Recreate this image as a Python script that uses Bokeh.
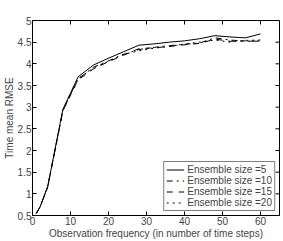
from bokeh.plotting import figure
from bokeh.models import Range1d, FixedTicker, Legend, LegendItem
from bokeh.embed import file_html
from bokeh.resources import INLINE

x = [1, 2, 4, 8, 12, 16, 20, 24, 28, 32, 36, 40, 44, 48, 52, 56, 60]
ens5 = [0.55, 0.70, 1.17, 2.95, 3.70, 3.97, 4.13, 4.28, 4.43, 4.46, 4.50, 4.53, 4.58, 4.65, 4.62, 4.60, 4.69]
ens10 = [0.55, 0.70, 1.16, 2.93, 3.65, 3.92, 4.07, 4.22, 4.33, 4.38, 4.42, 4.45, 4.48, 4.60, 4.55, 4.52, 4.53]
ens15 = [0.55, 0.70, 1.16, 2.92, 3.63, 3.88, 4.05, 4.20, 4.35, 4.37, 4.40, 4.44, 4.47, 4.57, 4.52, 4.53, 4.52]
ens20 = [0.55, 0.70, 1.16, 2.93, 3.66, 3.90, 4.06, 4.22, 4.30, 4.36, 4.40, 4.46, 4.50, 4.55, 4.50, 4.54, 4.55]
labels = ["Ensemble size =5", "Ensemble size =10", "Ensemble size =15", "Ensemble size =20"]
x_ticks = [0, 10, 20, 30, 40, 50, 60]
y_ticks = [0.5, 1, 1.5, 2, 2.5, 3, 3.5, 4, 4.5, 5]
x_min, x_max = 0, 65
y_min, y_max = 0.5, 5

FONT = "Liberation Sans"

p = figure(width=283, height=241, output_backend="svg", toolbar_location=None,
           x_range=Range1d(x_min, x_max), y_range=Range1d(y_min, y_max),
           min_border_left=0, min_border_right=4, min_border_top=20, min_border_bottom=0)
p.background_fill_color = "white"
p.border_fill_color = "white"
p.outline_line_color = "black"
p.grid.visible = False

for ax in (p.xaxis[0], p.yaxis[0]):
    ax.major_tick_in = 4
    ax.major_tick_out = 0
    ax.minor_tick_in = 0
    ax.minor_tick_out = 0
    ax.major_label_text_font = FONT
    ax.major_label_text_font_size = "10px"
    ax.axis_label_text_font = FONT
    ax.axis_label_text_font_size = "10px"
    ax.axis_label_text_font_style = "normal"
    ax.major_label_standoff = 1
    ax.axis_label_standoff = 0
    ax.axis_line_color = "black"
    ax.major_tick_line_color = "black"

p.xaxis[0].ticker = FixedTicker(ticks=x_ticks)
p.yaxis[0].ticker = FixedTicker(ticks=y_ticks)
p.xaxis[0].axis_label = "Observation frequency (in number of time steps)"
p.yaxis[0].axis_label = "Time mean RMSE"

# inward ticks on top and right edges (MATLAB box style), clipped by the frame
p.scatter(x_ticks, [y_max] * len(x_ticks), marker="dash", size=8, angle=1.5708,
          line_color="black", line_width=1)
p.scatter([x_max] * len(y_ticks), y_ticks, marker="dash", size=8,
          line_color="black", line_width=1)

r1 = p.line(x, ens5, line_color="black", line_width=1)
r2 = p.line(x, ens10, line_color="black", line_width=1, line_dash="dashdot")
r3 = p.line(x, ens15, line_color="black", line_width=1, line_dash="dashed")
r4 = p.line(x, ens20, line_color="black", line_width=1, line_dash="dotted")

legend = Legend(items=[LegendItem(label=labels[0], renderers=[r1]),
                       LegendItem(label=labels[1], renderers=[r2]),
                       LegendItem(label=labels[2], renderers=[r3]),
                       LegendItem(label=labels[3], renderers=[r4])],
                location="bottom_right")
legend.label_text_font = FONT
legend.label_text_font_size = "10px"
legend.label_height = 9
legend.glyph_height = 9
legend.glyph_width = 18
legend.label_standoff = 3
legend.spacing = 0
legend.padding = 2
legend.margin = 4
legend.border_line_color = "black"
legend.border_line_width = 1
legend.background_fill_color = "white"
p.add_layout(legend, "center")

open("out.html", "w").write(file_html(p, INLINE))
